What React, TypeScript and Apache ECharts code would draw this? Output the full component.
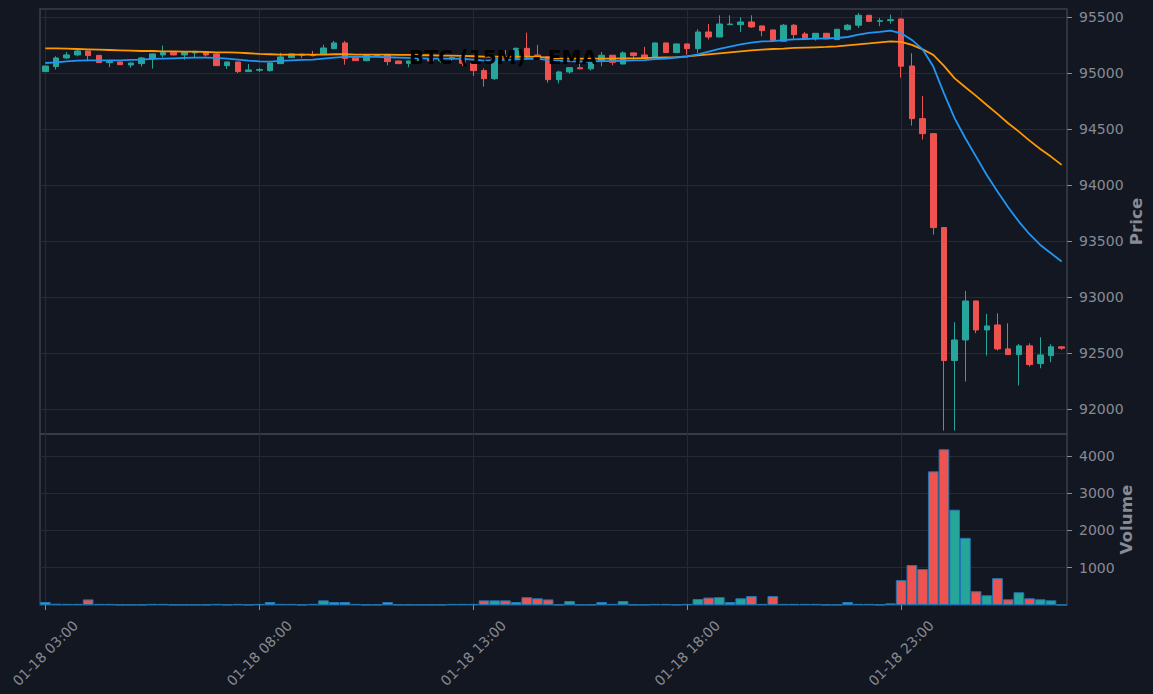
import React, { useEffect, useRef } from 'react';
import * as echarts from 'echarts';

// 15-minute candles, 01-18 03:00 .. 01-19 02:45
const START_LABELS = { month: '01', day: 18, hour: 3 };
function makeTimes(n: number): string[] {
  const out: string[] = [];
  for (let i = 0; i < n; i++) {
    const totalMin = START_LABELS.hour * 60 + i * 15;
    const day = START_LABELS.day + Math.floor(totalMin / 1440);
    const m = totalMin % 1440;
    const hh = String(Math.floor(m / 60)).padStart(2, '0');
    const mm = String(m % 60).padStart(2, '0');
    out.push(`${START_LABELS.month}-${String(day).padStart(2, '0')} ${hh}:${mm}`);
  }
  return out;
}

const opens = [
  95015, 95060, 95137, 95164, 95199, 95160, 95095, 95101, 95074, 95086,
  95128, 95164, 95188, 95164, 95182, 95188, 95173, 95068, 95101, 95015,
  95027, 95024, 95086, 95140, 95170, 95164, 95170, 95220, 95271, 95137,
  95113, 95158, 95167, 95110, 95089, 95110, 95125, 95110, 95128, 95140,
  95089, 95024, 94952, 95137, 95130, 95223, 95163, 95148, 94943, 95012,
  95050, 95040, 95110, 95161, 95083, 95182, 95164, 95143, 95271, 95185,
  95262, 95220, 95369, 95324, 95434, 95434, 95458, 95423, 95387, 95286,
  95429, 95351, 95307, 95357, 95301, 95390, 95429, 95518, 95464, 95470,
  95485, 95065, 94595, 94461, 93622, 92435, 92619, 92967, 92708, 92753,
  92539, 92488, 92566, 92408, 92479, 92557,
];
const closes = [
  95065, 95137, 95164, 95199, 95158, 95095, 95107, 95077, 95092, 95137,
  95173, 95185, 95164, 95188, 95191, 95164, 95068, 95101, 95015, 95030,
  95033, 95092, 95146, 95173, 95161, 95158, 95226, 95271, 95131, 95113,
  95158, 95164, 95104, 95086, 95110, 95125, 95110, 95128, 95140, 95089,
  95024, 94952, 95137, 95125, 95223, 95148, 95148, 94943, 95012, 95050,
  95040, 95110, 95161, 95098, 95182, 95158, 95137, 95271, 95185, 95262,
  95220, 95369, 95324, 95440, 95440, 95458, 95414, 95381, 95292, 95429,
  95345, 95307, 95357, 95307, 95393, 95429, 95518, 95464, 95470, 95479,
  95063, 94595, 94461, 93622, 92435, 92619, 92967, 92708, 92744, 92539,
  92488, 92566, 92399, 92485, 92557, 92545,
];
const lows = [
  95012, 95033, 95128, 95152, 95107, 95092, 95054, 95075, 95051, 95060,
  95042, 95143, 95160, 95122, 95143, 95149, 95066, 95039, 95003, 95013,
  95012, 95015, 95084, 95137, 95137, 95150, 95165, 95215, 95077, 95110,
  95107, 95150, 95071, 95084, 95054, 95095, 95100, 95095, 95110, 95065,
  94976, 94881, 94940, 95115, 95120, 95119, 95140, 94916, 94910, 94996,
  95035, 95025, 95063, 95071, 95080, 95122, 95135, 95140, 95183, 95183,
  95167, 95182, 95301, 95322, 95432, 95369, 95405, 95330, 95290, 95284,
  95301, 95305, 95292, 95305, 95299, 95381, 95405, 95462, 95420, 95443,
  94961, 94533, 94408, 93560, 91810, 91810, 92247, 92679, 92479, 92524,
  92486, 92212, 92381, 92366, 92420, 92530,
];
const highs = [
  95066, 95152, 95190, 95208, 95202, 95164, 95122, 95103, 95095, 95146,
  95176, 95247, 95190, 95190, 95202, 95190, 95179, 95103, 95103, 95083,
  95048, 95095, 95182, 95176, 95173, 95200, 95256, 95289, 95289, 95140,
  95160, 95170, 95170, 95112, 95112, 95135, 95165, 95135, 95150, 95150,
  95098, 95044, 95145, 95208, 95230, 95363, 95253, 95150, 95023, 95055,
  95092, 95115, 95190, 95163, 95196, 95185, 95235, 95275, 95273, 95265,
  95264, 95393, 95440, 95518, 95518, 95500, 95518, 95425, 95389, 95440,
  95440, 95369, 95360, 95360, 95396, 95440, 95539, 95520, 95494, 95524,
  95490, 95179, 94798, 94467, 93628, 92777, 93057, 92970, 92851, 92857,
  92768, 92584, 92589, 92643, 92581, 92560,
];
const volumes = [
  80, 35, 30, 30, 150, 30, 30, 10, 10, 10,
  30, 30, 10, 10, 10, 10, 30, 10, 30, 10,
  30, 80, 30, 30, 10, 30, 125, 80, 80, 30,
  10, 10, 80, 10, 10, 10, 10, 10, 30, 30,
  30, 125, 125, 125, 80, 210, 180, 150, 10, 108,
  10, 10, 80, 30, 108, 10, 10, 30, 30, 10,
  30, 160, 200, 210, 80, 180, 240, 30, 240, 30,
  30, 30, 30, 10, 10, 80, 30, 30, 10, 45,
  667, 1072, 964, 3586, 4180, 2559, 1802, 369, 261, 721,
  153, 342, 180, 153, 126, 5,
];
const emaFast = [
  95092, 95098, 95107, 95113, 95116, 95116, 95116, 95116, 95119, 95122,
  95128, 95131, 95134, 95137, 95140, 95140, 95137, 95131, 95122, 95113,
  95107, 95104, 95110, 95116, 95119, 95122, 95131, 95140, 95146, 95146,
  95146, 95146, 95143, 95140, 95137, 95134, 95131, 95131, 95131, 95128,
  95122, 95113, 95116, 95119, 95125, 95128, 95128, 95119, 95112, 95108,
  95105, 95105, 95108, 95108, 95112, 95115, 95118, 95127, 95132, 95141,
  95150, 95169, 95193, 95217, 95238, 95259, 95273, 95285, 95288, 95297,
  95303, 95306, 95309, 95312, 95315, 95324, 95345, 95360, 95369, 95381,
  95357, 95298, 95214, 95060, 94821, 94598, 94420, 94256, 94092, 93944,
  93804, 93676, 93563, 93467, 93393, 93319,
];
const emaSlow = [
  95223, 95222, 95220, 95217, 95214, 95211, 95208, 95205, 95202, 95199,
  95199, 95196, 95196, 95193, 95193, 95190, 95187, 95187, 95184, 95179,
  95173, 95170, 95167, 95167, 95167, 95167, 95167, 95170, 95170, 95167,
  95167, 95167, 95167, 95164, 95164, 95161, 95161, 95158, 95158, 95155,
  95152, 95149, 95149, 95149, 95149, 95149, 95146, 95140, 95134, 95131,
  95131, 95131, 95130, 95130, 95133, 95133, 95136, 95139, 95142, 95145,
  95151, 95160, 95169, 95178, 95187, 95196, 95205, 95211, 95217, 95220,
  95226, 95229, 95232, 95235, 95241, 95250, 95259, 95267, 95276, 95285,
  95280, 95253, 95214, 95164, 95066, 94955, 94875, 94798, 94717, 94637,
  94554, 94479, 94399, 94324, 94256, 94182,
];
const priceTicks = [92000, 92500, 93000, 93500, 94000, 94500, 95000, 95500];
const volumeTicks = [1000, 2000, 3000, 4000];

const times = makeTimes(opens.length);

const BG = '#131722';
const FRAME = '#3b3f48';
const GRIDC = '#252a35';
const LABEL = '#878b94';
const UP = '#26a69a';
const DOWN = '#ef5350';
const FONT = "'DejaVu Sans', sans-serif";

export default function App() {
  const ref = useRef<HTMLDivElement>(null);
  useEffect(() => {
    document.body.style.margin = '0';
    document.body.style.background = BG;
    if (!ref.current) return;
    const chart = echarts.init(ref.current, undefined, { renderer: 'svg' });
    const ohlc = opens.map((o, i) => [o, closes[i], lows[i], highs[i]]);
    const volData = volumes.map((v, i) => ({
      value: v,
      itemStyle: { color: closes[i] >= opens[i] ? UP : DOWN },
    }));
    const axisLabelStyle = { color: LABEL, fontSize: 14, fontFamily: FONT };
    const nameStyle = { color: LABEL, fontSize: 16.7, fontWeight: 'bold' as const, fontFamily: FONT };
    chart.setOption({
      animation: false,
      backgroundColor: BG,
      textStyle: { fontFamily: FONT },
      title: {
        text: 'BTC (15M) - EMA',
        left: 498,
        top: 42,
        textAlign: 'center',
        z: 20,
        textStyle: { color: '#000', fontSize: 20, fontWeight: 'bold', fontFamily: FONT },
      },
      grid: [
        { left: 40, top: 9, width: 1027, height: 425, show: true, borderColor: FRAME, borderWidth: 1.5, backgroundColor: 'transparent', containLabel: false, outerBoundsMode: 'none' },
        { left: 40, top: 434, width: 1027, height: 171, show: true, borderColor: FRAME, borderWidth: 1.5, backgroundColor: 'transparent', containLabel: false, outerBoundsMode: 'none' },
      ],
      xAxis: [
        {
          type: 'category', gridIndex: 0, data: times, boundaryGap: true,
          axisLine: { show: false }, axisTick: { show: false }, axisLabel: { show: false },
          splitLine: { show: true, interval: 19, alignWithLabel: true, lineStyle: { color: GRIDC, width: 1 } },
        },
        {
          type: 'category', gridIndex: 1, data: times, boundaryGap: true,
          axisLine: { show: false },
          axisTick: { show: true, interval: 19, alignWithLabel: true, length: 5, lineStyle: { color: LABEL, width: 1 } },
          axisLabel: { ...axisLabelStyle, interval: 19, rotate: 45, align: 'center', verticalAlign: 'middle', margin: 48 },
          splitLine: { show: true, interval: 19, alignWithLabel: true, lineStyle: { color: GRIDC, width: 1 } },
        },
      ],
      yAxis: [
        {
          type: 'value', gridIndex: 0, position: 'right', min: 91779, max: 95574, scale: true,
          axisLine: { show: false },
          axisTick: { show: true, length: 5, customValues: priceTicks, lineStyle: { color: LABEL } },
          axisLabel: { ...axisLabelStyle, margin: 12, customValues: priceTicks, formatter: (v: number) => (v % 500 === 0 ? String(v) : '') },
          splitLine: { show: true, lineStyle: { color: GRIDC, width: 1 } },
          name: 'Price', nameLocation: 'middle', nameGap: 60, nameRotate: 90, nameMoveOverlap: false, nameTextStyle: nameStyle,
        },
        {
          type: 'value', gridIndex: 1, position: 'right', min: 0, max: 4589,
          axisLine: { show: false },
          axisTick: { show: true, length: 5, customValues: volumeTicks, lineStyle: { color: LABEL } },
          axisLabel: { ...axisLabelStyle, margin: 12, customValues: volumeTicks, formatter: (v: number) => (v > 0 && v % 1000 === 0 ? String(v) : '') },
          splitLine: { show: true, lineStyle: { color: GRIDC, width: 1 } },
          name: 'Volume', nameLocation: 'middle', nameGap: 50, nameRotate: 90, nameMoveOverlap: false, nameTextStyle: nameStyle,
        },
      ],
      series: [
        {
          type: 'candlestick', xAxisIndex: 0, yAxisIndex: 0, data: ohlc, barWidth: 6, z: 2,
          itemStyle: { color: UP, color0: DOWN, borderColor: UP, borderColor0: DOWN, borderWidth: 1 },
        },
        {
          type: 'line', xAxisIndex: 0, yAxisIndex: 0, data: emaSlow, symbol: 'none', z: 3,
          lineStyle: { color: '#ff9800', width: 1.8 },
        },
        {
          type: 'line', xAxisIndex: 0, yAxisIndex: 0, data: emaFast, symbol: 'none', z: 4,
          lineStyle: { color: '#2196f3', width: 1.8 },
        },
        {
          type: 'bar', xAxisIndex: 1, yAxisIndex: 1, data: volData, barWidth: '100%', barCategoryGap: '0%',
          itemStyle: { borderColor: '#1f77b4', borderWidth: 1 },
        },
      ],
    });
    return () => chart.dispose();
  }, []);
  return <div ref={ref} style={{ width: 1153, height: 694, background: BG }} />;
}
